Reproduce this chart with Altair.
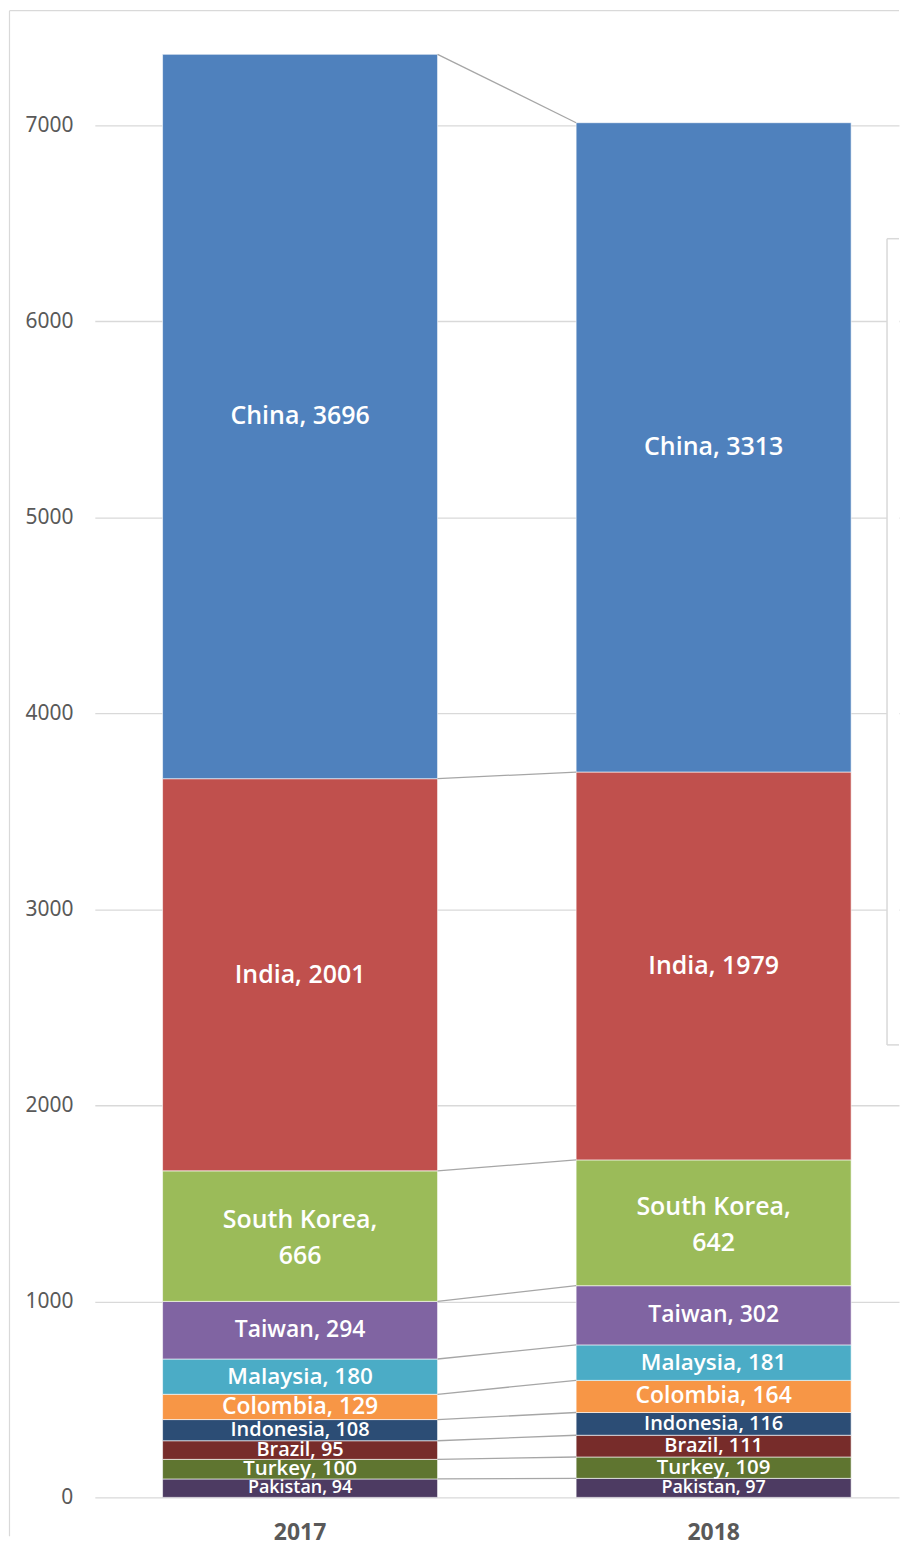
import altair as alt
import pandas as pd

years = ["2017", "2018"]
countries = ["Pakistan", "Turkey", "Brazil", "Indonesia", "Colombia",
             "Malaysia", "Taiwan", "South Korea", "India", "China"]
values_2017 = [94, 100, 95, 108, 129, 180, 294, 666, 2001, 3696]
values_2018 = [97, 109, 111, 116, 164, 181, 302, 642, 1979, 3313]
colors = ["#4D3B62", "#5F7530", "#772C2A", "#2C4D75", "#F79646",
          "#4BACC6", "#8064A2", "#9BBB59", "#C0504D", "#4F81BD"]
label_sizes = [18, 20.5, 20, 20, 23, 22.5, 23, 25, 25, 25]
y_ticks = [0, 1000, 2000, 3000, 4000, 5000, 6000, 7000]

# ---- tables built from the arrays above ----
rows = []
tops = {}
for year, vals in zip(years, [values_2017, values_2018]):
    base = 0
    tops[year] = []
    for i, (c, v) in enumerate(zip(countries, vals)):
        label = f"{c},\n{v}" if c == "South Korea" else f"{c}, {v}"
        rows.append(dict(year=year, country=c, value=v, order=i,
                         y0=base, y1=base + v, label=label))
        base += v
        tops[year].append(base)
df = pd.DataFrame(rows)

conn = pd.DataFrame({
    "country": countries,
    "from": [years[0]] * len(countries),
    "to": [years[1]] * len(countries),
    "top_from": tops[years[0]],
    "top_to": tops[years[1]],
})

# ---- layout ----
W = 806
H = 1490
px_per_unit = 1375 / 7000
ymax = H / px_per_unit
FONT = "Noto Sans"
LFONT = "Open Sans"
GRID = "#d9d9d9"
LH = 36

xscale = alt.Scale(domain=years, paddingInner=0.335, paddingOuter=0.1398, align=0.586)
yscale = alt.Scale(domain=[0, ymax], nice=False, zero=True)

one = pd.DataFrame({"k": [0]})

box_fill = alt.Chart(one).mark_rect(fill="white").encode(
    x=alt.value(794), x2=alt.value(W), y=alt.value(228.5), y2=alt.value(1036.5))
box_left = alt.Chart(one).mark_rule(color=GRID, strokeWidth=1.5).encode(
    x=alt.value(794), y=alt.value(228.5), y2=alt.value(1036.5))
box_top = alt.Chart(one).mark_rule(color=GRID, strokeWidth=1.5).encode(
    x=alt.value(794), x2=alt.value(W), y=alt.value(228.5))
box_bottom = alt.Chart(one).mark_rule(color=GRID, strokeWidth=1.5).encode(
    x=alt.value(794), x2=alt.value(W), y=alt.value(1036.5))

frame_left = alt.Chart(one).mark_rule(color=GRID, strokeWidth=1.2).encode(
    x=alt.value(-85.5), y=alt.value(0), y2=alt.value(1529))
frame_top = alt.Chart(one).mark_rule(color=GRID, strokeWidth=1.2).encode(
    x=alt.value(-85.5), x2=alt.value(W), y=alt.value(0))

bars = alt.Chart(df).mark_bar(stroke="white", strokeWidth=0.6).encode(
    x=alt.X("year:N", scale=xscale, title=None,
            axis=alt.Axis(labelAngle=0, domain=False, ticks=False, tickSize=0,
                          labelFont=FONT, labelFontSize=23, labelFontWeight="bold",
                          labelColor="#595959", labelPadding=24, grid=False)),
    y=alt.Y("y0:Q", scale=yscale, title=None,
            axis=alt.Axis(values=y_ticks, format="d", domain=False, ticks=False,
                          tickSize=0, labelFont=FONT, labelFontSize=21,
                          labelColor="#595959", labelPadding=22,
                          grid=True, gridColor=GRID, gridWidth=1.3)),
    y2="y1:Q",
    color=alt.Color("country:N", scale=alt.Scale(domain=countries, range=colors),
                    legend=None),
)

connectors = alt.Chart(conn).mark_rule(color="#a6a6a6", strokeWidth=1.3).encode(
    x=alt.X("from:N", bandPosition=1, scale=xscale, title=None),
    x2=alt.X2("to:N", bandPosition=0),
    y=alt.Y("top_from:Q", scale=yscale, title=None),
    y2="top_to:Q",
)

size_enc = alt.Size("country:N",
                    scale=alt.Scale(type="ordinal", domain=countries, range=label_sizes),
                    legend=None)

base_labels = alt.Chart(df).transform_calculate(
    mid="(datum.y0 + datum.y1) / 2",
    nlines="length(split(datum.label, '\\n'))",
)

labels_single = base_labels.transform_filter("datum.nlines == 1").mark_text(
    color="white", font=LFONT, fontWeight=600, baseline="middle", align="center", clip=True
).encode(
    x=alt.X("year:N", scale=xscale, title=None),
    y=alt.Y("mid:Q", scale=yscale, title=None),
    text="label:N",
    size=size_enc,
)

labels_multi = base_labels.transform_filter("datum.nlines > 1").mark_text(
    color="white", font=LFONT, fontWeight=600, baseline="middle", align="center", clip=True,
    lineBreak="\n", lineHeight=LH, dy=-LH / 2 + 2
).encode(
    x=alt.X("year:N", scale=xscale, title=None),
    y=alt.Y("mid:Q", scale=yscale, title=None),
    text="label:N",
    size=size_enc,
)

chart = alt.layer(
    box_fill, box_left, box_top, box_bottom, frame_left, frame_top,
    bars, connectors, labels_single, labels_multi
).properties(
    width=W, height=H, padding=0, background="white"
).configure_view(stroke=None)

chart.save("out.html", embed_options={"renderer": "svg", "actions": False})
